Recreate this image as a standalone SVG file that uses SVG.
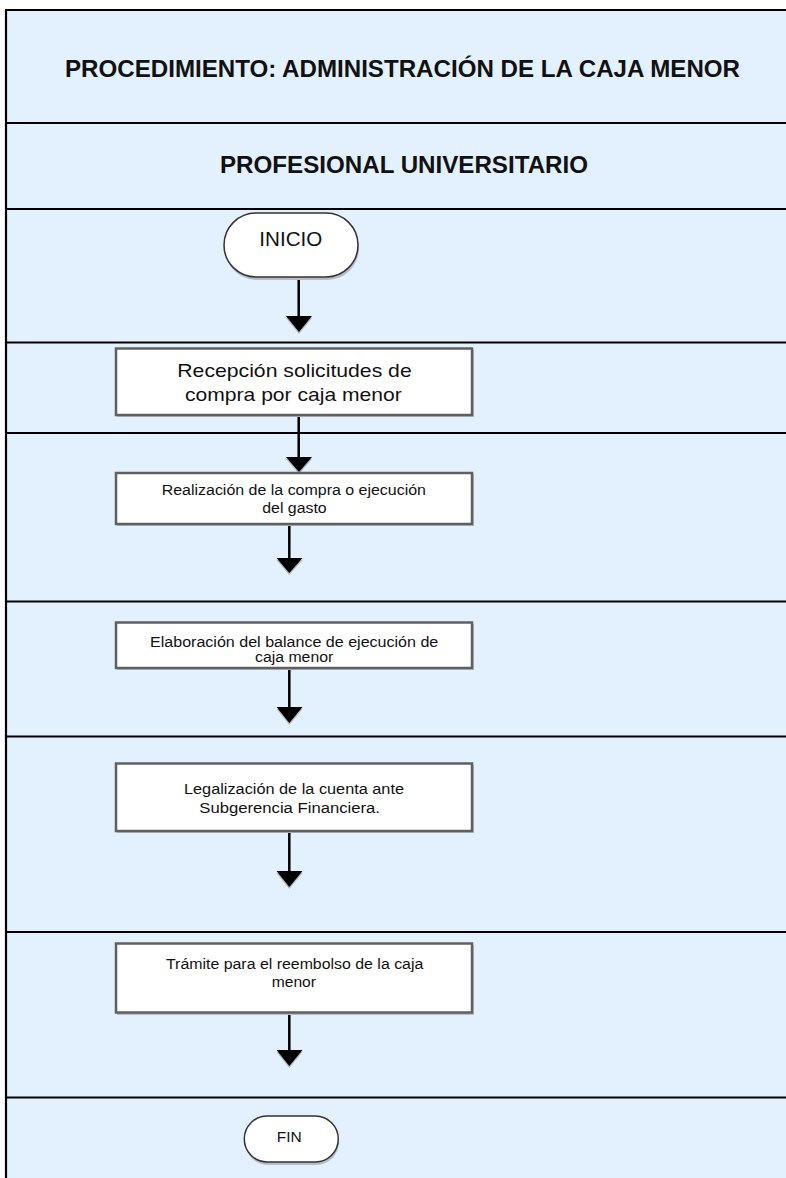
<svg xmlns="http://www.w3.org/2000/svg" width="786" height="1178" viewBox="0 0 786 1178">
<style>
.sep{stroke:#000;stroke-width:2.2;fill:none}
.box{fill:#fff;stroke:#606060;stroke-width:2.5}
.shadow{fill:#b4bcc4}
.term{fill:#fff;stroke:#333;stroke-width:1.5}
.t{font-family:"Liberation Sans",Arial,sans-serif;fill:#111;text-anchor:start}
.h{font-family:"Liberation Sans",Arial,sans-serif;font-weight:bold;fill:#111}
.conn{stroke:#000;stroke-width:2.5;fill:none}
.head{fill:#000}
.hshadow{fill:#b0b8c0}
</style>
<rect x="0" y="0" width="786" height="1178" fill="#fff"/>
<rect x="6" y="10" width="790" height="1180" fill="#E3F0FD"/>
<g id="frame">
<line class="sep" x1="6" y1="10" x2="786" y2="10"/>
<line class="sep" x1="6" y1="9" x2="6" y2="1178"/>
<line class="sep" x1="6" y1="123" x2="786" y2="123"/>
<line class="sep" x1="6" y1="209" x2="786" y2="209"/>
<line class="sep" x1="6" y1="342.5" x2="786" y2="342.5"/>
<line class="sep" x1="6" y1="433" x2="786" y2="433"/>
<line class="sep" x1="6" y1="601.5" x2="786" y2="601.5"/>
<line class="sep" x1="6" y1="736.5" x2="786" y2="736.5"/>
<line class="sep" x1="6" y1="932" x2="786" y2="932"/>
<line class="sep" x1="6" y1="1097.5" x2="786" y2="1097.5"/>
</g>
<g id="title">
<text class="h" x="65" y="76.5" font-size="23" textLength="675" lengthAdjust="spacingAndGlyphs">PROCEDIMIENTO: ADMINISTRACIÓN DE LA CAJA MENOR</text>
</g>
<g id="role">
<text class="h" x="220" y="172.5" font-size="23" textLength="368" lengthAdjust="spacingAndGlyphs">PROFESIONAL UNIVERSITARIO</text>
</g>
<g id="connectors">
<line class="conn" x1="298.7" y1="277" x2="298.7" y2="317"/>
<polygon class="hshadow" points="286,318 312,318 299,334"/>
<polygon class="head" points="286,316 312,316 299,332"/>
<line class="conn" x1="298.7" y1="416" x2="298.7" y2="457"/>
<polygon class="hshadow" points="286,459 312,459 299,474"/>
<polygon class="head" points="286,457 312,457 299,472"/>
<line class="conn" x1="289.3" y1="524" x2="289.3" y2="558"/>
<polygon class="hshadow" points="276.5,560 302.5,560 289.3,575"/>
<polygon class="head" points="276.5,558 302.5,558 289.3,573"/>
<line class="conn" x1="289.3" y1="668" x2="289.3" y2="707"/>
<polygon class="hshadow" points="276.5,709 302.5,709 289.3,725"/>
<polygon class="head" points="276.5,707 302.5,707 289.3,723"/>
<line class="conn" x1="289.3" y1="831" x2="289.3" y2="871"/>
<polygon class="hshadow" points="276.5,873 302.5,873 289.3,889"/>
<polygon class="head" points="276.5,871 302.5,871 289.3,887"/>
<line class="conn" x1="289.3" y1="1013" x2="289.3" y2="1050"/>
<polygon class="hshadow" points="276.5,1052 302.5,1052 289.3,1068"/>
<polygon class="head" points="276.5,1050 302.5,1050 289.3,1066"/>
</g>
<g id="inicio">
<rect class="shadow" x="225" y="216" width="134" height="64" rx="32"/>
<rect class="term" x="224" y="213" width="134" height="64" rx="32"/>
<text class="t" x="259.3" y="246" font-size="20" textLength="63" lengthAdjust="spacingAndGlyphs">INICIO</text>
</g>
<g id="recepcion">
<rect class="shadow" x="117" y="350" width="357" height="67"/>
<rect class="box" x="116" y="348.5" width="356" height="66.5"/>
<text class="t" x="177.3" y="376.5" font-size="19" textLength="234.4" lengthAdjust="spacingAndGlyphs">Recepción solicitudes de</text>
<text class="t" x="185" y="401" font-size="19" textLength="216.7" lengthAdjust="spacingAndGlyphs">compra por caja menor</text>
</g>
<g id="realizacion">
<rect class="shadow" x="117" y="474" width="357" height="52"/>
<rect class="box" x="116" y="473" width="356" height="51"/>
<text class="t" x="161.7" y="495" font-size="15.5" textLength="264.3" lengthAdjust="spacingAndGlyphs">Realización de la compra o ejecución</text>
<text class="t" x="262.3" y="513" font-size="15.5" textLength="64.4" lengthAdjust="spacingAndGlyphs">del gasto</text>
</g>
<g id="elaboracion">
<rect class="shadow" x="117" y="624" width="357" height="46"/>
<rect class="box" x="116" y="622.5" width="356" height="45.5"/>
<text class="t" x="150" y="646.7" font-size="15.5" textLength="288.3" lengthAdjust="spacingAndGlyphs">Elaboración del balance de ejecución de</text>
<text class="t" x="255" y="661.5" font-size="15.5" textLength="78.3" lengthAdjust="spacingAndGlyphs">caja menor</text>
</g>
<g id="legalizacion">
<rect class="shadow" x="117" y="765" width="357" height="68"/>
<rect class="box" x="116" y="763.5" width="356" height="67.5"/>
<text class="t" x="184" y="794" font-size="15.5" textLength="220" lengthAdjust="spacingAndGlyphs">Legalización  de la cuenta ante</text>
<text class="t" x="199.3" y="812.7" font-size="15.5" textLength="180.7" lengthAdjust="spacingAndGlyphs">Subgerencia Financiera.</text>
</g>
<g id="tramite">
<rect class="shadow" x="117" y="945" width="357" height="70"/>
<rect class="box" x="116" y="943.5" width="356" height="69"/>
<text class="t" x="166" y="969" font-size="15.5" textLength="257.3" lengthAdjust="spacingAndGlyphs">Trámite para el reembolso de la caja</text>
<text class="t" x="271.7" y="986.7" font-size="15.5" textLength="44.3" lengthAdjust="spacingAndGlyphs">menor</text>
</g>
<g id="fin">
<rect class="shadow" x="245" y="1119" width="94" height="46" rx="23"/>
<rect class="term" x="244.3" y="1116" width="94" height="46" rx="23"/>
<text class="t" x="276.7" y="1141.7" font-size="15" textLength="25" lengthAdjust="spacingAndGlyphs">FIN</text>
</g>
</svg>
